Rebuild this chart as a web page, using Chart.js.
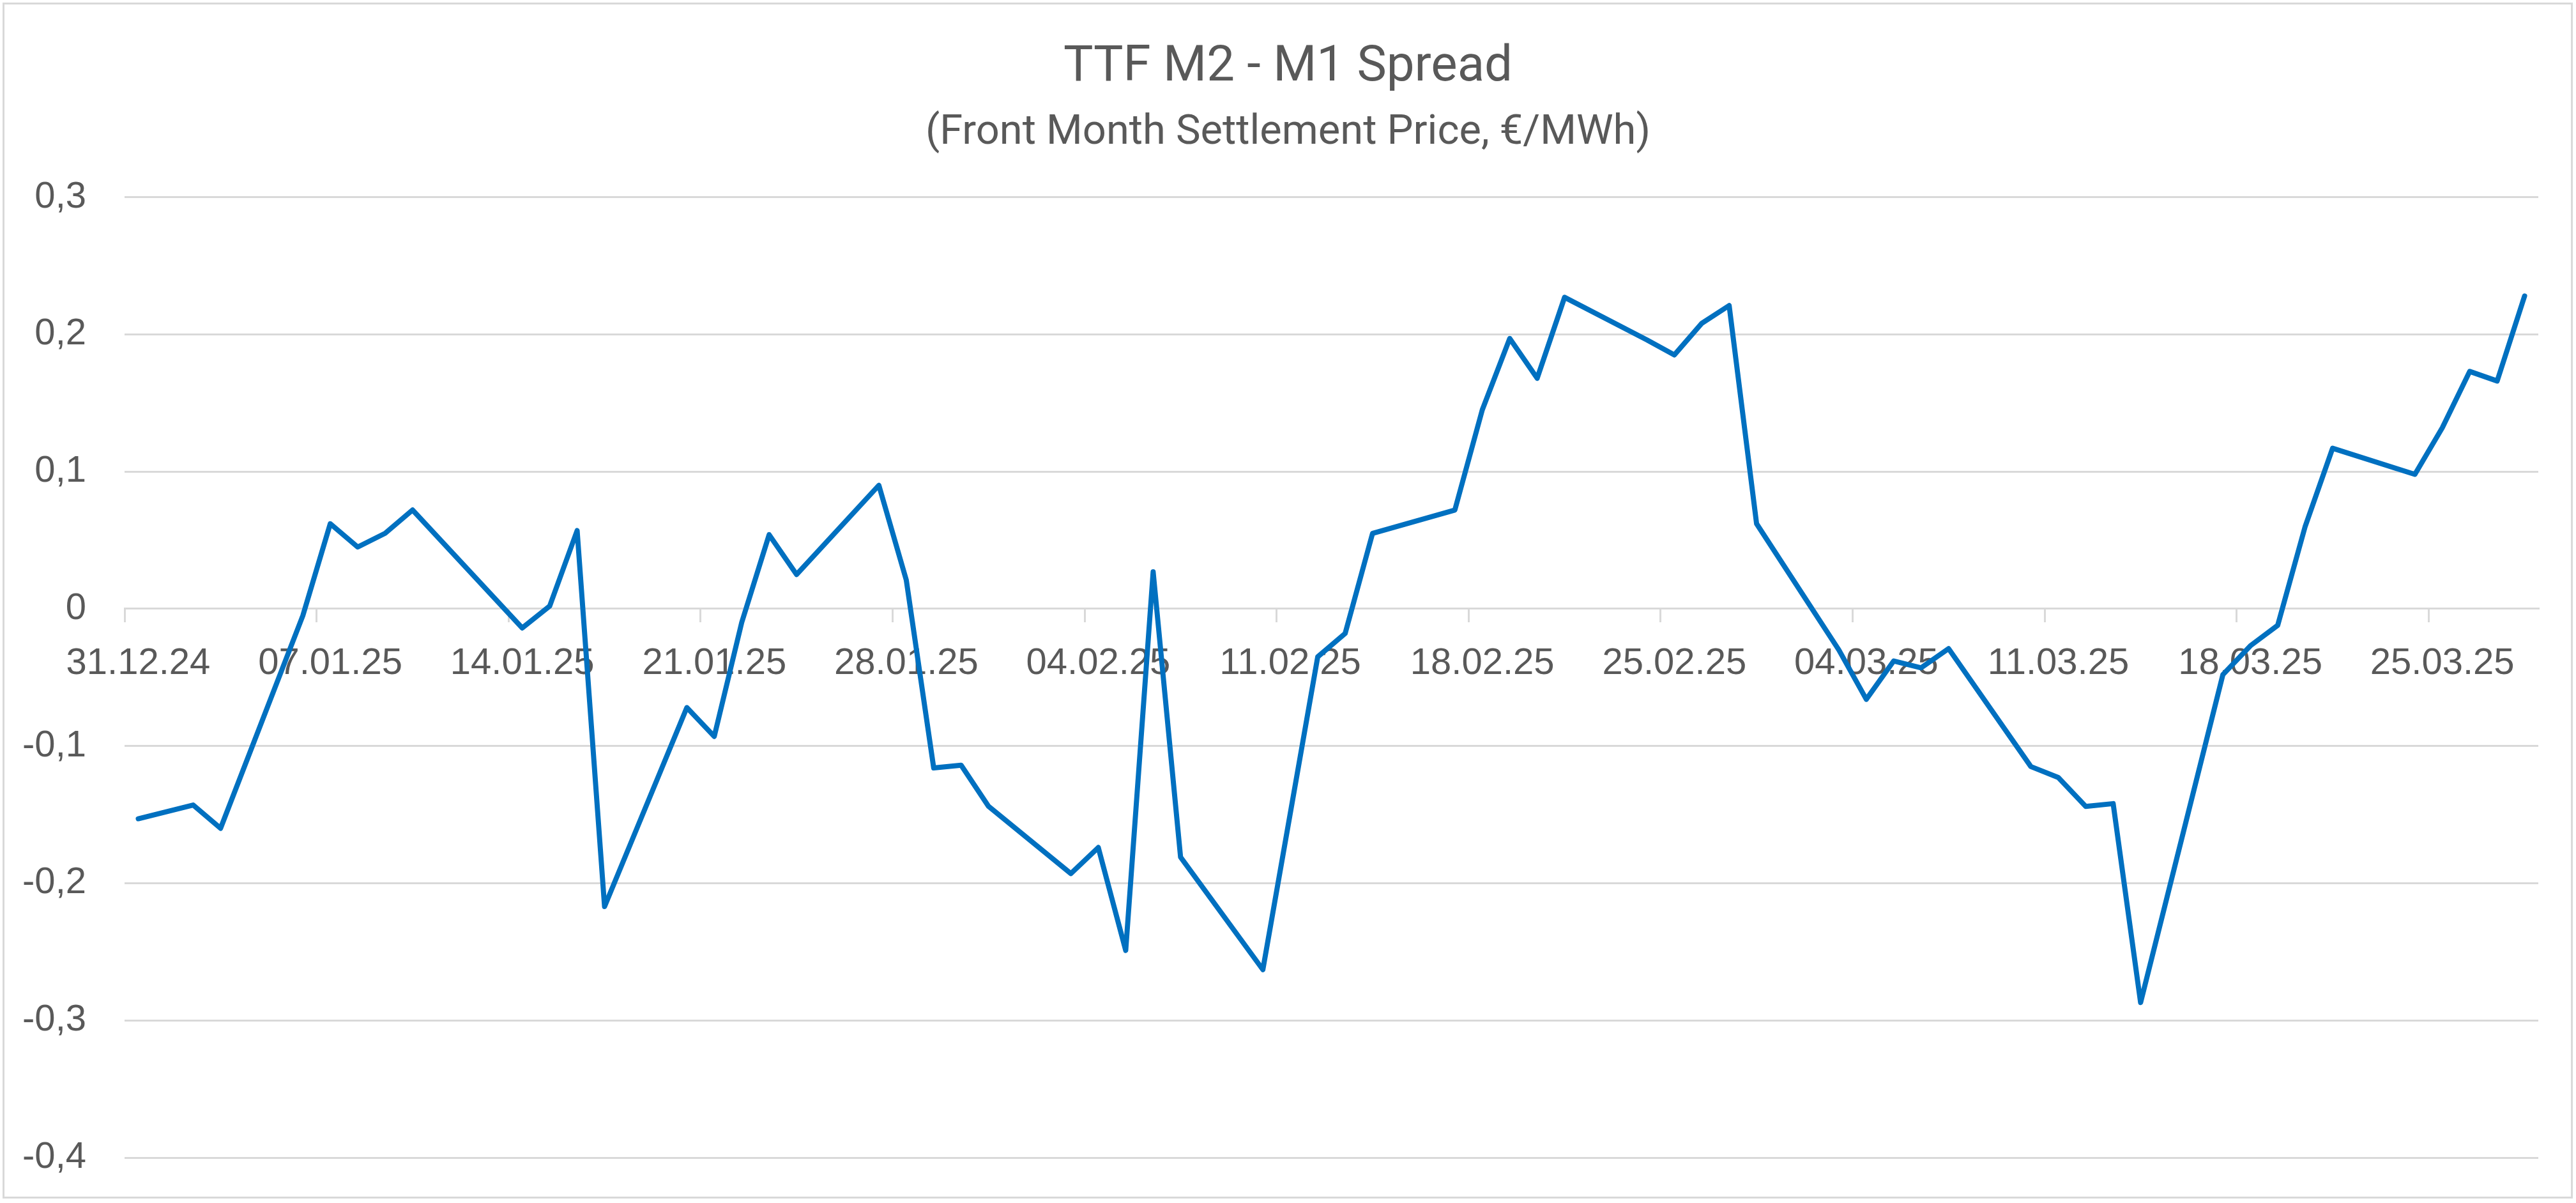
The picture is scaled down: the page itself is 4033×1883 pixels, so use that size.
<!DOCTYPE html>
<html>
<head>
<meta charset="utf-8">
<title>TTF M2 - M1 Spread</title>
<script src="https://cdn.jsdelivr.net/npm/chart.js@4.4.1/dist/chart.umd.min.js"></script>
<style>
  html, body { margin: 0; padding: 0; background: #ffffff; }
  #wrap { position: relative; width: 4033px; height: 1883px; }
  #frame {
    position: absolute; left: 4px; top: 4px;
    width: 4024px; height: 1872px;
    box-sizing: border-box; border: 3px solid #d9d9d9;
    pointer-events: none;
  }
</style>
</head>
<body>
<div id="wrap">
  <canvas id="chart" width="4033" height="1883"></canvas>
  <div id="frame"></div>
</div>
<script>
// handelstage (settlement) und spread M2 - M1 in €/MWh
const tradeDates = [
  '31.12.24', '02.01.25', '03.01.25', '06.01.25', '07.01.25', '08.01.25', '09.01.25', '10.01.25',
  '14.01.25', '15.01.25', '16.01.25', '17.01.25', '20.01.25', '21.01.25', '22.01.25', '23.01.25',
  '24.01.25', '27.01.25', '28.01.25', '29.01.25', '30.01.25', '31.01.25', '03.02.25', '04.02.25',
  '05.02.25', '06.02.25', '07.02.25', '10.02.25', '12.02.25', '13.02.25', '14.02.25', '17.02.25',
  '18.02.25', '19.02.25', '20.02.25', '21.02.25', '24.02.25', '25.02.25', '26.02.25', '27.02.25',
  '28.02.25', '03.03.25', '04.03.25', '05.03.25', '06.03.25', '07.03.25', '10.03.25', '11.03.25',
  '12.03.25', '13.03.25', '14.03.25', '17.03.25', '18.03.25', '19.03.25', '20.03.25', '21.03.25',
  '24.03.25', '25.03.25', '26.03.25', '27.03.25', '28.03.25'
];
const spreadValues = [
  -0.153, -0.143, -0.160, -0.005, 0.062, 0.045, 0.055, 0.072,
  -0.014, 0.002, 0.057, -0.217, -0.072, -0.093, -0.010, 0.054,
  0.025, 0.090, 0.021, -0.116, -0.114, -0.144, -0.193, -0.174,
  -0.249, 0.027, -0.181, -0.263, -0.035, -0.018, 0.055, 0.072,
  0.145, 0.197, 0.168, 0.227, 0.196, 0.185, 0.208, 0.221,
  0.062, -0.030, -0.066, -0.038, -0.043, -0.029, -0.115, -0.123,
  -0.144, -0.142, -0.287, -0.048, -0.027, -0.012, 0.060, 0.117,
  0.098, 0.132, 0.173, 0.166, 0.228
];

const axisStart = new Date(2024, 11, 31);
const axisEnd = new Date(2025, 2, 28);
const labelEvery = 7; // Beschriftung jede Woche

const yMin = -0.4;
const yMax = 0.3;
const yStep = 0.1;

const titleText = 'TTF M2 - M1 Spread';
const subtitleText = '(Front Month Settlement Price, €/MWh)';

const grey = '#595959';
const gridGrey = '#d9d9d9';
const lineBlue = '#0070c0';

function fmtDate(d) {
  const dd = String(d.getDate()).padStart(2, '0');
  const mm = String(d.getMonth() + 1).padStart(2, '0');
  const yy = String(d.getFullYear()).slice(-2);
  return dd + '.' + mm + '.' + yy;
}

// Datumsachse: ein Slot pro Kalendertag
const dayLabels = [];
for (let d = new Date(axisStart); d <= axisEnd; d.setDate(d.getDate() + 1)) {
  dayLabels.push(fmtDate(d));
}

const points = tradeDates.map((t, i) => ({ x: t, y: spreadValues[i] }));

new Chart(document.getElementById('chart'), {
  type: 'line',
  data: {
    labels: dayLabels,
    datasets: [{
      label: 'Spread',
      data: points,
      borderColor: lineBlue,
      borderWidth: 8,
      borderJoinStyle: 'round',
      borderCapStyle: 'round',
      pointRadius: 0,
      tension: 0,
      fill: false
    }]
  },
  options: {
    responsive: false,
    animation: false,
    devicePixelRatio: 1,
    layout: { padding: { left: 0, right: 0, top: 10, bottom: 71 } },
    plugins: {
      legend: { display: false },
      tooltip: { enabled: false },
      title: {
        display: true,
        text: titleText,
        color: grey,
        font: { family: 'Roboto', size: 78, weight: 'normal' },
        padding: { top: 50, bottom: 0 }
      },
      subtitle: {
        display: true,
        text: subtitleText,
        color: grey,
        font: { family: 'Roboto', size: 65, weight: 'normal' },
        padding: { top: 16, bottom: 61 }
      }
    },
    scales: {
      x: {
        type: 'category',
        position: { y: 0 },
        offset: true,
        grid: {
          offset: true,
          drawOnChartArea: false,
          drawTicks: true,
          tickLength: 20,
          lineWidth: 3,
          color: ctx => ctx.index % labelEvery === 0 ? gridGrey : 'rgba(0,0,0,0)'
        },
        border: { display: true, color: gridGrey, width: 3 },
        ticks: {
          autoSkip: false,
          maxRotation: 0,
          minRotation: 0,
          padding: 31,
          color: grey,
          font: { family: 'Liberation Sans', size: 58 },
          callback: function (value, index) {
            return index % labelEvery === 0 ? this.getLabelForValue(value) : '';
          }
        },
        afterFit: scale => { scale.height = 0; }
      },
      y: {
        min: yMin,
        max: yMax,
        // unsichtbare Tickmarks schieben die Beschriftung nach links
        grid: { color: gridGrey, lineWidth: 3, drawTicks: true, tickLength: 57, tickColor: 'rgba(0,0,0,0)' },
        border: { display: false },
        ticks: {
          stepSize: yStep,
          padding: 3,
          color: grey,
          font: { family: 'Liberation Sans', size: 58 },
          callback: v => {
            const r = Math.round(v * 10) / 10;
            return r === 0 ? '0' : String(r).replace('.', ',');
          }
        },
        afterFit: scale => { scale.width = 195; }
      },
      // leere Achse rechts, nur als Rand (Titel bleibt mittig)
      yRight: {
        position: 'right',
        display: true,
        grid: { display: false },
        border: { display: false },
        ticks: { display: false },
        afterFit: scale => { scale.width = 59; }
      }
    }
  }
});
</script>
</body>
</html>
